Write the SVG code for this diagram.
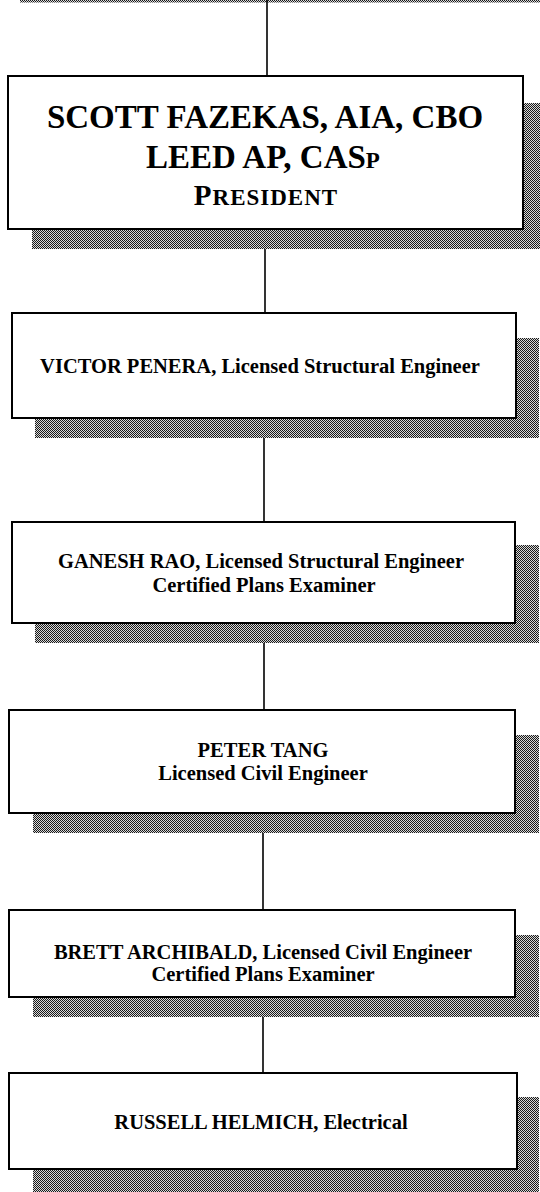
<svg xmlns="http://www.w3.org/2000/svg" width="540" height="1192" viewBox="0 0 540 1192">
  <defs>
    <pattern id="dither" patternUnits="userSpaceOnUse" width="4" height="4">
      <rect width="4" height="4" fill="#d8d8d8"/>
      <path d="M0 0h1v1H0zM1 1h1v1H1zM2 2h1v1H2zM3 3h1v1H3zM2 0h1v1H2zM0 2h1v1H0zM3 1h1v1H3zM1 3h1v1H1z" fill="#1a1a1a"/>
    </pattern>
  </defs>
  <style>
    .box { fill: #ffffff; stroke: #000000; stroke-width: 2; }
    .shadow { fill: url(#dither); }
    .conn { stroke: #000000; stroke-width: 1.6; fill: none; }
    text { font-family: "Liberation Serif", "Times New Roman", serif; font-weight: bold; fill: #000000; text-anchor: middle; }
    .big { font-size: 33px; }
    .mid { font-size: 20.5px; }
  </style>
  <rect width="540" height="1192" fill="#ffffff"/>

  <!-- shadow remnant at top edge -->
  <rect x="20" y="0" width="520" height="2.5" class="shadow"/>

  <g id="connectors">
    <line class="conn" x1="267" y1="0" x2="267" y2="76"/>
    <line class="conn" x1="265" y1="249" x2="265" y2="313"/>
    <line class="conn" x1="264" y1="438" x2="264" y2="522"/>
    <line class="conn" x1="264" y1="643" x2="264" y2="710"/>
    <line class="conn" x1="263" y1="833" x2="263" y2="910"/>
    <line class="conn" x1="263" y1="1017" x2="263" y2="1073"/>
  </g>

  <g id="node-fazekas">
    <rect class="shadow" x="32" y="103" width="510" height="146"/>
    <rect class="box" x="8" y="76" width="515" height="153"/>
    <text class="big" x="265" y="128">SCOTT FAZEKAS, AIA, CBO</text>
    <text class="big" x="263" y="168">LEED AP, CAS<tspan font-size="23">P</tspan></text>
    <text x="266" y="205" font-size="29" letter-spacing="1">P<tspan font-size="23">RESIDENT</tspan></text>
  </g>

  <g id="node-penera">
    <rect class="shadow" x="35" y="338" width="504" height="100"/>
    <rect class="box" x="12" y="313" width="504" height="105"/>
    <text class="mid" x="260" y="373">VICTOR PENERA, Licensed Structural Engineer</text>
  </g>

  <g id="node-rao">
    <rect class="shadow" x="35" y="545" width="504" height="98"/>
    <rect class="box" x="12" y="522" width="503" height="101"/>
    <text class="mid" x="261" y="568">GANESH RAO, Licensed Structural Engineer</text>
    <text class="mid" x="264" y="592">Certified Plans Examiner</text>
  </g>

  <g id="node-tang">
    <rect class="shadow" x="33" y="735" width="506" height="98"/>
    <rect class="box" x="9" y="710" width="506" height="103"/>
    <text class="mid" x="263" y="757">PETER TANG</text>
    <text class="mid" x="263" y="780">Licensed Civil Engineer</text>
  </g>

  <g id="node-archibald">
    <rect class="shadow" x="33" y="935" width="506" height="82"/>
    <rect class="box" x="9" y="910" width="506" height="87"/>
    <text class="mid" x="263" y="959">BRETT ARCHIBALD, Licensed Civil Engineer</text>
    <text class="mid" x="263" y="981">Certified Plans Examiner</text>
  </g>

  <g id="node-helmich">
    <rect class="shadow" x="33" y="1097" width="506" height="95"/>
    <rect class="box" x="9" y="1073" width="508" height="96"/>
    <text class="mid" x="261" y="1129">RUSSELL HELMICH, Electrical</text>
  </g>
</svg>
